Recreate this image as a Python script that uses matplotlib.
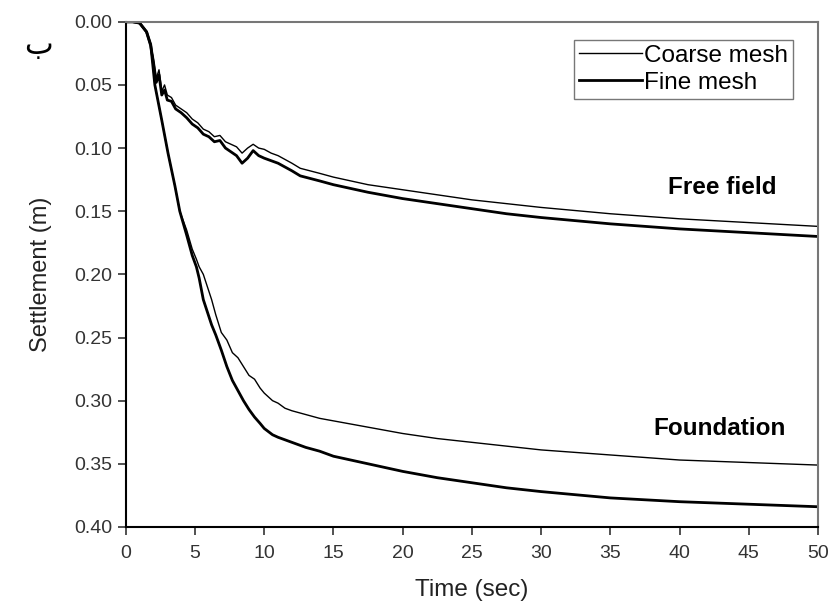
import matplotlib
matplotlib.use("Agg")
import matplotlib.pyplot as plt

# free field settlement, coarse and fine mesh
ff_t = [0, 0.5, 1.0, 1.5, 1.8, 2.0, 2.2, 2.4, 2.6, 2.8, 3.0, 3.3, 3.6, 4.0, 4.4, 4.8,
        5.2, 5.6, 6.0, 6.4, 6.8, 7.2, 7.6, 8.0, 8.4, 8.8, 9.2, 9.6, 10.0, 10.5, 11.0,
        11.5, 12.0, 12.6, 13.3, 14.0, 15.0, 17.5, 20, 22.5, 25, 27.5, 30, 35, 40, 45, 50]
ff_coarse = [0, 0, 0.001, 0.008, 0.018, 0.030, 0.045, 0.038, 0.055, 0.050, 0.058, 0.060,
             0.066, 0.069, 0.072, 0.077, 0.080, 0.085, 0.087, 0.091, 0.090, 0.095, 0.097,
             0.099, 0.104, 0.100, 0.097, 0.100, 0.101, 0.104, 0.106, 0.109, 0.112, 0.116,
             0.118, 0.120, 0.123, 0.129, 0.133, 0.137, 0.141, 0.144, 0.147, 0.152, 0.156,
             0.159, 0.162]
ff_fine = [0, 0, 0.001, 0.008, 0.019, 0.032, 0.048, 0.042, 0.058, 0.054, 0.062, 0.063,
           0.069, 0.072, 0.076, 0.081, 0.084, 0.089, 0.091, 0.095, 0.094, 0.100, 0.103,
           0.106, 0.112, 0.108, 0.102, 0.106, 0.108, 0.110, 0.112, 0.115, 0.118, 0.122,
           0.124, 0.126, 0.129, 0.135, 0.140, 0.144, 0.148, 0.152, 0.155, 0.160, 0.164,
           0.167, 0.170]

# foundation settlement, coarse and fine mesh
fd_t = [0, 0.5, 1.0, 1.5, 1.8, 2.1, 2.6, 3.05, 3.55, 3.9, 4.4, 4.8, 5.1, 5.3, 5.6, 6.2,
        6.5, 6.9, 7.3, 7.7, 8.1, 8.5, 8.9, 9.3, 9.7, 10.0, 10.6, 11.0, 11.5, 12.0, 13.0,
        14.0, 15.0, 17.5, 20, 22.5, 25, 27.5, 30, 35, 40, 45, 50]
fd_coarse = [0, 0, 0.001, 0.008, 0.018, 0.050, 0.078, 0.104, 0.130, 0.150, 0.165, 0.180,
             0.188, 0.194, 0.200, 0.220, 0.232, 0.246, 0.252, 0.262, 0.266, 0.273, 0.280,
             0.283, 0.290, 0.294, 0.300, 0.302, 0.306, 0.308, 0.311, 0.314, 0.316, 0.321,
             0.326, 0.330, 0.333, 0.336, 0.339, 0.343, 0.347, 0.349, 0.351]
fd_fine = [0, 0, 0.001, 0.008, 0.018, 0.050, 0.078, 0.104, 0.130, 0.150, 0.169, 0.185,
           0.194, 0.203, 0.220, 0.240, 0.248, 0.260, 0.273, 0.284, 0.292, 0.300, 0.307,
           0.313, 0.318, 0.322, 0.327, 0.329, 0.331, 0.333, 0.337, 0.340, 0.344, 0.350,
           0.356, 0.361, 0.365, 0.369, 0.372, 0.377, 0.380, 0.382, 0.384]

x_ticks = list(range(0, 51, 5))
y_ticks = [0.00, 0.05, 0.10, 0.15, 0.20, 0.25, 0.30, 0.35, 0.40]

plt.rcParams['font.family'] = ['Liberation Sans', 'DejaVu Sans']

fig = plt.figure(figsize=(8.33, 6.05), dpi=100)
ax = fig.add_axes([0.151, 0.129, 0.831, 0.835])

ax.plot(ff_t, ff_coarse, color='black', lw=1.0, label='Coarse mesh')
ax.plot(ff_t, ff_fine, color='black', lw=2.0, label='Fine mesh')
ax.plot(fd_t, fd_coarse, color='black', lw=1.0)
ax.plot(fd_t, fd_fine, color='black', lw=2.0)

ax.set_xlim(0, 50)
ax.set_ylim(0.40, 0.00)
ax.set_xticks(x_ticks)
ax.set_yticks(y_ticks)
ax.set_yticklabels([f"{v:.2f}" for v in y_ticks])
ax.tick_params(direction='out', length=6, width=1.2, colors='#333333')
ax.tick_params(axis='x', labelsize=14, pad=7)
ax.tick_params(axis='y', labelsize=14)
ax.set_xlabel("Time (sec)", fontsize=17.5, color='#222222', labelpad=12)
ax.set_ylabel("Settlement (m)", fontsize=17, color='#222222', labelpad=16)

for side in ['left', 'bottom']:
    ax.spines[side].set_linewidth(1.5)
for side in ['top', 'right']:
    ax.spines[side].set_color('#777777')
    ax.spines[side].set_linewidth(1.5)

ax.text(39.2, 0.131, "Free field", fontsize=17.5, fontweight='bold', va='center')
ax.text(38.1, 0.322, "Foundation", fontsize=17.5, fontweight='bold', va='center')

leg = ax.legend(loc='upper right', bbox_to_anchor=(0.964, 0.964), fontsize=17.5,
                frameon=True, fancybox=False, edgecolor='#555555',
                handlelength=2.6, handletextpad=0.1, borderpad=0.2, labelspacing=0.2,
                borderaxespad=0)
leg.get_frame().set_linewidth(1.0)

fig.text(0.046, 0.925, "ب", fontsize=22, family=['DejaVu Sans'], ha='center', va='center')

fig.savefig("out.png", dpi=100)
